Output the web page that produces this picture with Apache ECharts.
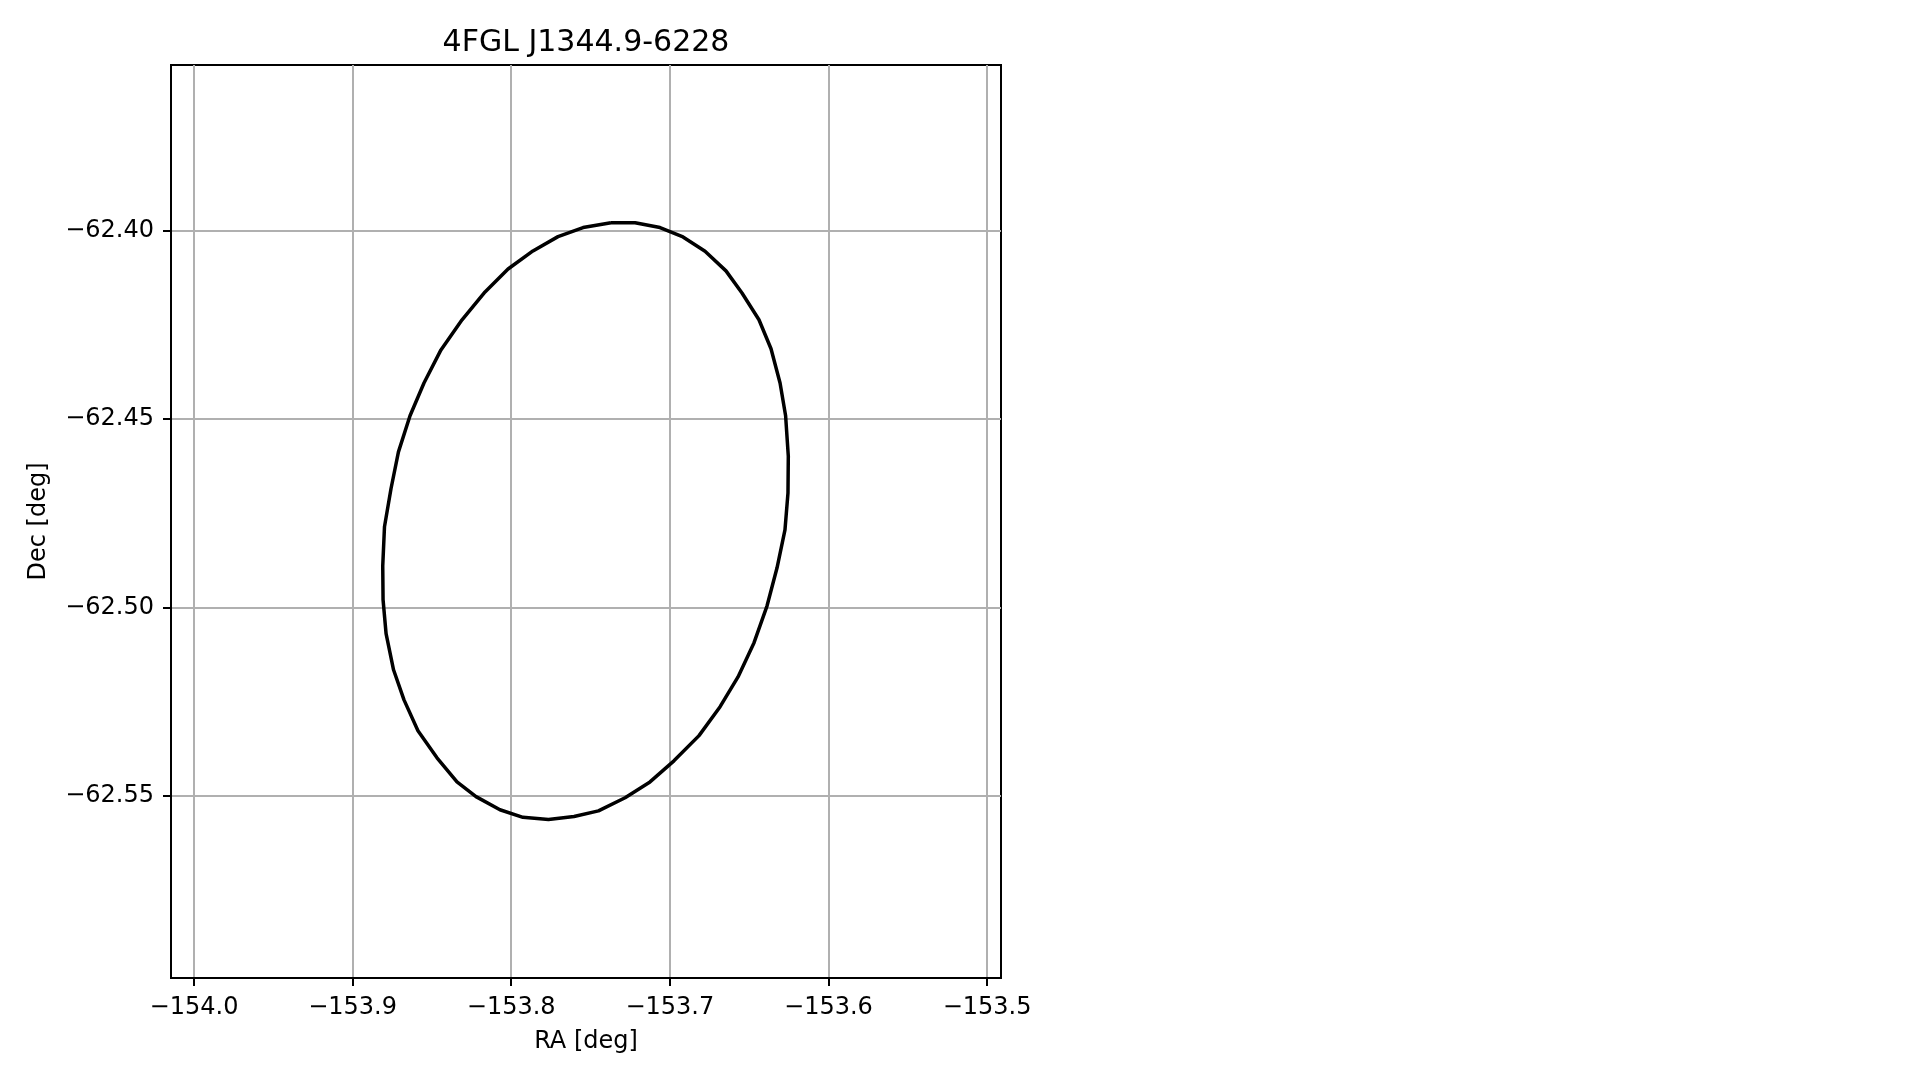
<!DOCTYPE html>
<html>
<head>
<meta charset="utf-8">
<script src="https://cdn.jsdelivr.net/npm/echarts@6/dist/echarts.min.js"></script>
<style>
html,body{margin:0;padding:0;background:#fff;}
#chart{width:1919px;height:1080px;}
</style>
</head>
<body>
<div id="chart"></div>
<script>
const titleText = "4FGL J1344.9-6228";
const xName = "RA [deg]";
const yName = "Dec [deg]";

const xTickValues = [-154.0, -153.9, -153.8, -153.7, -153.6, -153.5];
const xTickLabels = ["\u2212154.0", "\u2212153.9", "\u2212153.8", "\u2212153.7", "\u2212153.6", "\u2212153.5"];
const yTickValues = [-62.40, -62.45, -62.50, -62.55];
const yTickLabels = ["\u221262.40", "\u221262.45", "\u221262.50", "\u221262.55"];

const xRange = [-154.0145, -153.4912];
const yRange = [-62.5985, -62.3559];

// ellipse outline vertices (RA, Dec)
const raValues = [
  -153.7371, -153.7219, -153.7062, -153.6917, -153.6778, -153.6646, -153.6545, -153.6438,
  -153.6362, -153.6305, -153.6270, -153.6253, -153.6255, -153.6274, -153.6324, -153.6387,
  -153.6469, -153.6570, -153.6683, -153.6816, -153.6974, -153.7125, -153.7282, -153.7450,
  -153.7604, -153.7765, -153.7926, -153.8071, -153.8222, -153.8342, -153.8468, -153.8588,
  -153.8676, -153.8742, -153.8789, -153.8808, -153.8810, -153.8799, -153.8758, -153.8711,
  -153.8638, -153.8550, -153.8443, -153.8310, -153.8165, -153.8020, -153.7863, -153.7705,
  -153.7547, -153.7371
];
const decValues = [
  -62.3978, -62.3978, -62.3991, -62.4016, -62.4054, -62.4106, -62.4165, -62.4236,
  -62.4313, -62.4404, -62.4491, -62.4598, -62.4696, -62.4794, -62.4895, -62.4996,
  -62.5094, -62.5185, -62.5264, -62.5341, -62.5408, -62.5464, -62.5506, -62.5541,
  -62.5556, -62.5564, -62.5558, -62.5538, -62.5503, -62.5464, -62.5400, -62.5328,
  -62.5246, -62.5166, -62.5070, -62.4980, -62.4890, -62.4786, -62.4685, -62.4587,
  -62.4491, -62.4404, -62.4316, -62.4236, -62.4162, -62.4101, -62.4053, -62.4015,
  -62.3991, -62.3978
];

function labelFor(values, labels, v) {
  let best = 0, bd = Infinity;
  values.forEach((t, i) => { const d = Math.abs(t - v); if (d < bd) { bd = d; best = i; } });
  return bd < 1e-6 ? labels[best] : '';
}

const FONT = "DejaVu Sans";
const chart = echarts.init(document.getElementById('chart'), null, {renderer: 'canvas'});
chart.setOption({
  backgroundColor: '#ffffff',
  animation: false,
  title: {
    text: titleText,
    left: 581,
    top: 23,
    textAlign: 'center',
    textStyle: {fontFamily: FONT, fontSize: 30, fontWeight: 'normal', color: '#000'}
  },
  grid: {left: 171, top: 65, width: 830, height: 913, show: true, borderColor: '#000', borderWidth: 2,
    backgroundColor: 'transparent', containLabel: false},
  xAxis: {
    type: 'value',
    min: xRange[0], max: xRange[1],
    name: xName,
    nameLocation: 'middle',
    nameGap: 52,
    nameTextStyle: {fontFamily: FONT, fontSize: 24, color: '#000'},
    axisLine: {show: true, onZero: false, lineStyle: {color: '#000', width: 2}},
    axisTick: {show: true, inside: false, length: 8, lineStyle: {color: '#000', width: 2}, customValues: xTickValues},
    axisLabel: {show: true, margin: 18, fontFamily: FONT, fontSize: 24, color: '#000', customValues: xTickValues,
      formatter: v => labelFor(xTickValues, xTickLabels, v)},
    splitLine: {show: true, lineStyle: {color: '#b0b0b0', width: 2}}
  },
  yAxis: {
    type: 'value',
    min: yRange[0], max: yRange[1],
    name: yName,
    nameLocation: 'middle',
    nameRotate: 90,
    nameGap: 120,
    nameTextStyle: {fontFamily: FONT, fontSize: 24, color: '#000'},
    axisLine: {show: true, onZero: false, lineStyle: {color: '#000', width: 2}},
    axisTick: {show: true, inside: false, length: 8, lineStyle: {color: '#000', width: 2}, customValues: yTickValues},
    axisLabel: {show: true, margin: 17, fontFamily: FONT, fontSize: 24, color: '#000', customValues: yTickValues,
      formatter: v => labelFor(yTickValues, yTickLabels, v)},
    splitLine: {show: true, lineStyle: {color: '#b0b0b0', width: 2}}
  },
  series: [
    {
      type: 'line',
      data: raValues.map((x, i) => [x, decValues[i]]),
      showSymbol: false,
      symbol: 'none',
      smooth: false,
      lineStyle: {color: '#000', width: 3.5},
      z: 5
    }
  ]
});
</script>
</body>
</html>
